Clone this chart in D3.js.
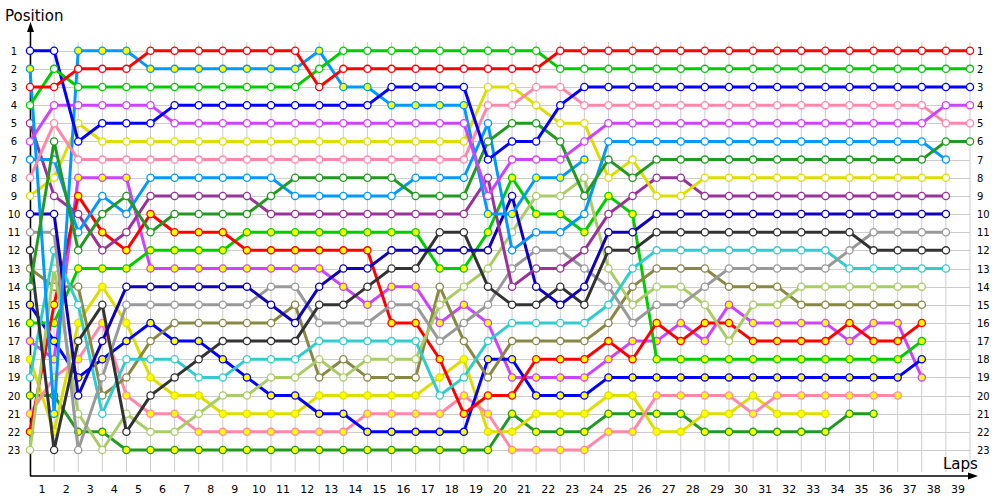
<!DOCTYPE html>
<html><head><meta charset="utf-8">
<script src="https://cdn.jsdelivr.net/npm/d3@7"></script>
<style>
body{margin:0;background:#fff;}
svg{display:block;}
text{font-family:"DejaVu Sans",Verdana,sans-serif;}
</style></head>
<body>
<svg id="chart" width="1000" height="500"></svg>
<script>
// ---- data: position per lap (index = lap 0..39), null = not running ----
const laps = d3.range(0, 40);
const positions = d3.range(1, 24);
const lapLabels = d3.range(1, 40);

const redA    = [3,3,2,2,2,1,1,1,1,1,1,1,3,2,2,2,2,2,2,2,2,2,1,1,1,1,1,1,1,1,1,1,1,1,1,1,1,1,1,1];
const greenA  = [4,2,3,3,3,3,3,3,3,3,3,3,2,1,1,1,1,1,1,1,1,1,2,2,2,2,2,2,2,2,2,2,2,2,2,2,2,2,2,2];
const blueA   = [1,1,6,5,5,5,4,4,4,4,4,4,4,4,4,3,3,3,3,7,6,6,4,3,3,3,3,3,3,3,3,3,3,3,3,3,3,3,3,3];
const violetA = [6,4,4,4,4,4,5,5,5,5,5,5,5,5,5,5,5,5,5,9,7,7,7,6,5,5,5,5,5,5,5,5,5,5,5,5,5,5,4,4];
const pinkA   = [8,5,7,7,7,7,7,7,7,7,7,7,7,7,7,7,7,7,7,4,4,3,3,4,4,4,4,4,4,4,4,4,4,4,4,4,4,4,5,5];
const dgreenA = [14,6,12,10,9,11,10,10,10,10,9,8,8,8,8,8,9,9,9,6,5,5,6,9,7,8,7,7,7,7,7,7,7,7,7,7,7,7,6,6];
const lblueA  = [7,7,11,9,10,8,8,8,8,8,8,9,9,9,9,9,8,8,8,5,12,11,11,10,6,6,6,6,6,6,6,6,6,6,6,6,6,6,7,null];
const lblueB  = [2,21,1,1,1,2,2,2,2,2,2,2,1,3,3,4,4,4,4,10,10,8,8,7];
const yellowA = [9,8,5,6,6,6,6,6,6,6,6,6,6,6,6,6,6,6,6,3,3,4,5,5,8,7,9,9,8,8,8,8,8,8,8,8,8,8,8,null];
const plum    = [5,9,10,12,11,9,9,9,9,9,10,10,10,10,10,10,10,10,10,8,14,13,13,12,10,9,8,8,9,9,9,9,9,9,9,9,9,9,9,null];
const navy    = [10,10,20,17,14,14,14,14,14,14,15,16,14,13,13,12,12,12,12,12,9,14,15,14,11,11,10,10,10,10,10,10,10,10,10,10,10,10,10,null];
const dgray   = [12,23,17,15,22,20,19,18,17,17,17,17,15,15,14,13,13,11,11,14,15,15,14,15,12,12,11,11,11,11,11,11,11,11,11,12,12,12,12,null];
const gray    = [11,11,23,19,15,15,15,15,15,15,14,14,16,16,16,15,15,17,16,15,13,12,12,13,14,16,15,15,14,13,13,13,13,13,12,11,11,11,11,null];
const cyan    = [19,12,15,21,18,18,18,19,19,18,18,18,17,17,17,17,17,20,19,17,16,16,16,16,15,13,12,12,12,12,12,12,12,12,13,13,13,13,13,null];
const lgreen  = [23,13,21,23,21,22,22,21,20,20,19,19,18,19,18,18,18,15,14,13,11,9,9,8,13,15,14,14,15,17,15,15,14,14,14,14,14,14];
const olive   = [13,14,14,20,19,17,16,16,16,16,16,15,19,18,19,19,19,14,17,19,17,17,17,17,16,14,13,13,13,14,14,14,15,15,15,15,15,15];
const redB    = [22,15,9,11,12,10,11,11,11,12,12,12,12,12,12,16,16,18,21,20,20,18,18,18,17,18,16,17,16,16,17,17,17,17,16,17,17,16];
const greenB  = [16,16,13,13,13,12,12,12,12,11,11,11,11,11,11,11,11,13,13,11,8,10,10,11,9,10,18,18,18,18,18,18,18,18,18,18,18,17];
const blueB   = [15,17,19,18,17,16,17,17,18,19,20,20,21,21,22,22,22,22,22,18,18,20,20,20,19,19,19,19,19,19,19,19,19,19,19,19,19,18];
const violetB = [17,18,8,8,8,13,13,13,13,13,13,13,13,14,15,14,14,16,15,16,19,19,19,19,18,17,17,16,17,15,16,16,16,16,17,16,16,19];
const pinkB   = [21,19,18,16,20,21,21,22,22,22,22,22,22,22,21,21,21,21,20,21,23,23,23,23,22,22,20,20,20,20,21,20,20,20,20,20,20];
const yellowB = [18,22,16,14,16,19,20,20,21,21,21,21,20,20,20,20,20,19,18,22,22,21,21,21,20,20,22,22,21,21,20,21,21,21];
const dgreenB = [20,20,22,22,23,23,23,23,23,23,23,23,23,23,23,23,23,23,23,23,21,22,22,22,21,21,21,21,22,22,22,22,22,22,21,21];

// ---- series styling (colour, marker fill) ----
const series = [
  {v: dgreenB, c: "#229922", f: "#ffff00"},
  {v: yellowB, c: "#dddd00", f: "#ffff00"},
  {v: pinkB,   c: "#ff88aa", f: "#ffff00"},
  {v: violetB, c: "#cc44ff", f: "#ffff00"},
  {v: blueB,   c: "#0000ff", f: "#ffff00"},
  {v: greenB,  c: "#00cc00", f: "#ffff00"},
  {v: redB,    c: "#ff0000", f: "#ffff00"},
  {v: olive,   c: "#888844", f: "#ffffff"},
  {v: lgreen,  c: "#aacc66", f: "#ffffff"},
  {v: cyan,    c: "#33cccc", f: "#ffffff"},
  {v: gray,    c: "#999999", f: "#ffffff"},
  {v: dgray,   c: "#333333", f: "#ffffff"},
  {v: navy,    c: "#1100bb", f: "#ffffff"},
  {v: plum,    c: "#993399", f: "#ffffff"},
  {v: yellowA, c: "#dddd00", f: "#ffffff"},
  {v: lblueB,  c: "#0099ff", f: "#ffff00"},
  {v: lblueA,  c: "#0099ff", f: "#ffffff"},
  {v: dgreenA, c: "#229922", f: "#ffffff"},
  {v: pinkA,   c: "#ff88aa", f: "#ffffff"},
  {v: violetA, c: "#cc44ff", f: "#ffffff"},
  {v: blueA,   c: "#0000ff", f: "#ffffff"},
  {v: greenA,  c: "#00cc00", f: "#ffffff"},
  {v: redA,    c: "#ff0000", f: "#ffffff"}
];

const svg = d3.select("#chart");
const x = d3.scaleLinear().domain([0, 39]).range([30, 970]);
const y = d3.scaleLinear().domain([1, 23]).range([50.7, 450]);

// grid
const grid = svg.append("g");
grid.selectAll("line.v").data(laps).join("line")
  .attr("x1", d => x(d)).attr("x2", d => x(d))
  .attr("y1", 42).attr("y2", 472)
  .attr("stroke", "#cccccc").attr("stroke-width", 1);
grid.selectAll("line.h").data(positions).join("line")
  .attr("x1", x(0)).attr("x2", x(39))
  .attr("y1", d => Math.round(y(d)) + 0.5).attr("y2", d => Math.round(y(d)) + 0.5)
  .attr("stroke", "#cccccc").attr("stroke-width", 1);

// axes
const ax = svg.append("g");
ax.append("line").attr("x1", 30.5).attr("x2", 30.5).attr("y1", 476).attr("y2", 26).attr("stroke", "#000").attr("stroke-width", 1.5);
ax.append("path").attr("d", "M30.5,22 L27,32 L34,32 Z").attr("fill", "#000");
ax.append("line").attr("x1", 30).attr("x2", 974).attr("y1", 476).attr("y2", 476).attr("stroke", "#000").attr("stroke-width", 1.5);
ax.append("path").attr("d", "M978,476 L968,472.5 L968,479.5 Z").attr("fill", "#000");

ax.append("text").attr("x", 5).attr("y", 21).attr("font-size", 15).text("Position");
ax.append("text").attr("x", 943).attr("y", 469).attr("font-size", 15).text("Laps");

// tick labels
ax.selectAll("text.lap").data(lapLabels).join("text")
  .attr("class", "lap")
  .attr("x", d => x(d - 0.5)).attr("y", 493)
  .attr("text-anchor", "middle").attr("font-size", 11).text(d => d);
ax.selectAll("text.pl").data(positions).join("text")
  .attr("class", "pl")
  .attr("x", 14).attr("y", d => y(d) + 4)
  .attr("text-anchor", "middle").attr("font-size", 10).text(d => d);
const finals = positions.filter(p => p <= 23);
ax.selectAll("text.pr").data(finals).join("text")
  .attr("class", "pr")
  .attr("x", 977).attr("y", d => y(d) + 4)
  .attr("text-anchor", "start").attr("font-size", 10).text(d => d);

// series
const line = d3.line().defined(d => d.p != null).x(d => x(d.lap)).y(d => y(d.p));
series.forEach(s => {
  const pts = s.v.map((p, i) => ({lap: laps[i], p: p})).filter(d => d.p != null);
  const g = svg.append("g");
  g.append("path").datum(pts).attr("d", line)
    .attr("fill", "none").attr("stroke", s.c).attr("stroke-width", 3).attr("stroke-linejoin", "round");
  g.selectAll("circle").data(pts).join("circle")
    .attr("cx", d => x(d.lap)).attr("cy", d => y(d.p)).attr("r", 3.6)
    .attr("fill", s.f).attr("stroke", s.c).attr("stroke-width", 1.3);
});
</script>
</body></html>
